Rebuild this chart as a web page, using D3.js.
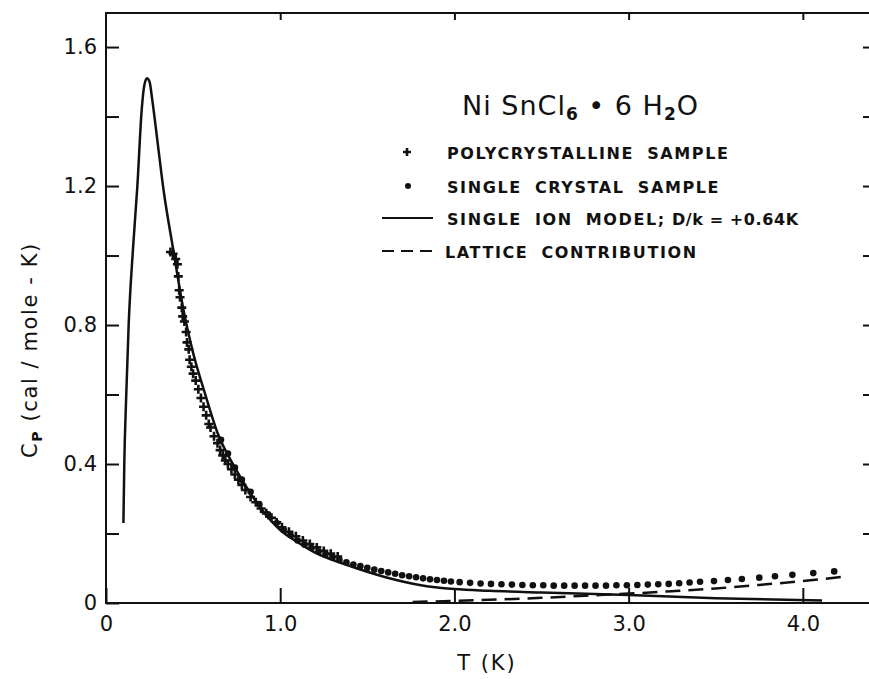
<!DOCTYPE html>
<html lang="en">
<head>
<meta charset="utf-8">
<script src="https://d3js.org/d3.v7.min.js"></script>
<style>
  body { margin: 0; background: #fff; }
  svg text { font-family: "DejaVu Sans", sans-serif; fill: #111; }
  .frame { fill: none; stroke: #111; stroke-width: 2; }
  .model { fill: none; stroke: #111; stroke-width: 2.5; }
  .lattice { fill: none; stroke: #111; stroke-width: 2.5; stroke-dasharray: 15,8; }
  .poly { stroke: #111; stroke-width: 2.6; }
  .tick line { stroke: #111; stroke-width: 2; }
  .legend text { font-weight: bold; font-size: 16px; letter-spacing: 1.6px; word-spacing: 6px; }
</style>
</head>
<body>
<svg id="chart" width="869" height="679"></svg>
<script>
// single ion model curve, D/k = +0.64 K  [T (K), Cp]
const modelT = [0.10, 0.105, 0.115, 0.13, 0.155, 0.18, 0.205, 0.22, 0.235, 0.25, 0.265, 0.30, 0.33, 0.385,
  0.45, 0.50, 0.57, 0.64, 0.74, 0.85, 1.00, 1.10, 1.20, 1.38, 1.60, 1.80, 2.00, 2.20, 2.50, 3.00, 3.50, 4.11];
const modelC = [0.23, 0.40, 0.58, 0.80, 1.02, 1.20, 1.42, 1.49, 1.51, 1.50, 1.45, 1.31, 1.19, 1.02,
  0.83, 0.72, 0.60, 0.49, 0.39, 0.30, 0.21, 0.175, 0.145, 0.11, 0.075, 0.052, 0.040, 0.035, 0.030, 0.023, 0.014, 0.007];

// lattice contribution (dashed)
const latticeT = [1.76, 2.0, 2.25, 2.5, 2.75, 3.0, 3.25, 3.5, 3.75, 4.0, 4.25];
const latticeC = [0.003, 0.006, 0.010, 0.015, 0.021, 0.027, 0.034, 0.042, 0.052, 0.063, 0.077];

// polycrystalline sample (+)
const polyT = [0.37, 0.385, 0.40, 0.41, 0.415, 0.42, 0.425, 0.435, 0.44, 0.45, 0.46, 0.465, 0.475, 0.48, 0.49,
  0.50, 0.515, 0.53, 0.545, 0.56, 0.575, 0.59, 0.60, 0.62, 0.64, 0.655, 0.67, 0.685, 0.70, 0.72, 0.74, 0.76,
  0.78, 0.80, 0.83, 0.86, 0.89, 0.92, 0.95, 0.98, 1.01, 1.05, 1.09, 1.13, 1.17, 1.21, 1.25, 1.29, 1.33];
const polyC = [1.010, 1.005, 0.990, 0.975, 0.940, 0.900, 0.880, 0.850, 0.825, 0.810, 0.780, 0.750, 0.730, 0.700, 0.680,
  0.660, 0.640, 0.615, 0.590, 0.565, 0.540, 0.515, 0.505, 0.480, 0.460, 0.440, 0.425, 0.410, 0.400, 0.385, 0.370, 0.355,
  0.340, 0.325, 0.305, 0.290, 0.272, 0.258, 0.245, 0.232, 0.218, 0.205, 0.192, 0.180, 0.170, 0.160, 0.150, 0.142, 0.134];

// single crystal sample (dots)
const crystalT = [0.66, 0.70, 0.74, 0.78, 0.83, 0.88, 0.93, 0.98, 1.02, 1.06, 1.10, 1.14, 1.18, 1.22, 1.26, 1.30,
  1.34, 1.38, 1.42, 1.46, 1.50, 1.54, 1.58, 1.62, 1.66, 1.70, 1.74, 1.78, 1.82, 1.86, 1.90, 1.94, 1.98, 2.03,
  2.09, 2.15, 2.21, 2.27, 2.33, 2.39, 2.45, 2.51, 2.57, 2.63, 2.69, 2.75, 2.81, 2.87, 2.93, 2.99, 3.05, 3.11,
  3.17, 3.23, 3.29, 3.35, 3.41, 3.49, 3.57, 3.65, 3.75, 3.84, 3.94, 4.06, 4.18];
const crystalC = [0.47, 0.43, 0.39, 0.355, 0.32, 0.285, 0.255, 0.23, 0.21, 0.195, 0.18, 0.168, 0.158, 0.148, 0.139, 0.131,
  0.124, 0.117, 0.111, 0.106, 0.101, 0.096, 0.092, 0.088, 0.084, 0.080, 0.077, 0.074, 0.071, 0.068, 0.066, 0.064, 0.062, 0.060,
  0.058, 0.056, 0.055, 0.054, 0.053, 0.052, 0.051, 0.051, 0.050, 0.050, 0.050, 0.050, 0.050, 0.050, 0.051, 0.051, 0.052, 0.053,
  0.054, 0.055, 0.057, 0.059, 0.061, 0.063, 0.066, 0.069, 0.073, 0.077, 0.081, 0.086, 0.091];

const yTicks = [0, 0.2, 0.4, 0.6, 0.8, 1.0, 1.2, 1.4, 1.6];
const yLabels = { 0: "0", 0.4: "0.4", 0.8: "0.8", 1.2: "1.2", 1.6: "1.6" };
const xTicks = [0, 1, 2, 3, 4];
const xLabels = ["0", "1.0", "2.0", "3.0", "4.0"];

const legendLabels = ["POLYCRYSTALLINE SAMPLE", "SINGLE CRYSTAL SAMPLE",
  "SINGLE ION MODEL;", "LATTICE CONTRIBUTION"];
const modelNote = "D/k = +0.64K";

const svg = d3.select("#chart");
const x = d3.scaleLinear().domain([0, 4.42]).range([106, 876]);
const y = d3.scaleLinear().domain([0, 1.698]).range([603, 13]);

// frame
svg.append("rect").attr("class", "frame")
  .attr("x", x(0)).attr("y", y(1.698))
  .attr("width", x(4.42) - x(0)).attr("height", y(0) - y(1.698));

// axes, ticks pointing inward
svg.append("g").attr("transform", `translate(${x(0)},0)`)
  .call(d3.axisLeft(y).tickValues(yTicks).tickSizeInner(-13).tickSizeOuter(0).tickPadding(9)
    .tickFormat(d => yLabels[d] || ""))
  .call(g => g.select(".domain").remove())
  .call(g => g.selectAll("text").attr("font-size", 21).attr("font-family", null));

svg.append("g").attr("transform", `translate(${x(4.42)},0)`)
  .call(d3.axisRight(y).tickValues(yTicks.slice(1)).tickSizeInner(-13).tickSizeOuter(0).tickFormat(""))
  .call(g => g.select(".domain").remove());

svg.append("g").attr("transform", `translate(0,${y(0)})`)
  .call(d3.axisBottom(x).tickValues(xTicks).tickSizeInner(-15).tickSizeOuter(0).tickPadding(13)
    .tickFormat((d, i) => xLabels[i]))
  .call(g => g.select(".domain").remove())
  .call(g => g.selectAll("text").attr("font-size", 21).attr("font-family", null));

svg.append("g").attr("transform", `translate(0,${y(1.698)})`)
  .call(d3.axisTop(x).tickValues(xTicks.slice(1)).tickSizeInner(-7).tickSizeOuter(0).tickFormat(""))
  .call(g => g.select(".domain").remove());

// axis titles
svg.append("text").attr("x", 487).attr("y", 670).attr("text-anchor", "middle")
  .attr("font-size", 21).style("letter-spacing", "2px").text("T (K)");

const yt = svg.append("text").attr("transform", "translate(37,350) rotate(-90)")
  .attr("text-anchor", "middle").attr("font-size", 21).style("letter-spacing", "1.6px");
yt.append("tspan").text("C");
yt.append("tspan").attr("font-size", 14).attr("font-weight", "bold").attr("dy", 5).text("P");
yt.append("tspan").attr("dy", -5).text(" (cal / mole - K)");

// title
const title = svg.append("text").attr("x", 462).attr("y", 115).attr("font-size", 27)
  .style("letter-spacing", "1px");
title.append("tspan").text("Ni SnCl");
title.append("tspan").attr("font-size", 17).attr("font-weight", "bold").attr("dy", 5).text("6");
title.append("tspan").attr("dy", -5).text(" \u2022 6 H");
title.append("tspan").attr("font-size", 17).attr("font-weight", "bold").attr("dy", 5).text("2");
title.append("tspan").attr("dy", -5).text("O");

// data
const model = modelT.map((t, i) => [t, modelC[i]]);
const lattice = latticeT.map((t, i) => [t, latticeC[i]]);
const poly = polyT.map((t, i) => [t, polyC[i]]);
const crystal = crystalT.map((t, i) => [t, crystalC[i]]);

const line = d3.line().x(d => x(d[0])).y(d => y(d[1])).curve(d3.curveMonotoneX);

svg.append("path").datum(model).attr("class", "model").attr("d", line);
svg.append("path").datum(lattice).attr("class", "lattice").attr("d", line);

svg.append("g").selectAll("circle").data(crystal).join("circle")
  .attr("cx", d => x(d[0])).attr("cy", d => y(d[1])).attr("r", 3.3).attr("fill", "#111");

svg.append("g").selectAll("path").data(poly).join("path")
  .attr("transform", d => `translate(${x(d[0])},${y(d[1])})`)
  .attr("d", "M-4.5,0H4.5M0,-4.5V4.5").attr("class", "poly");

// legend
const legend = svg.append("g").attr("class", "legend");
const rowY = [152, 186, 218, 251];
legend.append("path").attr("class", "poly").attr("d", `M403,${rowY[0]}H411M407,${rowY[0] - 4}V${rowY[0] + 4}`);
legend.append("circle").attr("cx", 408).attr("cy", rowY[1]).attr("r", 3).attr("fill", "#111");
legend.append("line").attr("x1", 382).attr("x2", 433).attr("y1", rowY[2]).attr("y2", rowY[2])
  .attr("stroke", "#111").attr("stroke-width", 1.8);
legend.append("line").attr("x1", 382).attr("x2", 433).attr("y1", rowY[3]).attr("y2", rowY[3])
  .attr("stroke", "#111").attr("stroke-width", 2).attr("stroke-dasharray", "12,7");
const lbl = legend.selectAll("text.lbl").data(legendLabels).join("text").attr("class", "lbl")
  .attr("x", (d, i) => i === 3 ? 445 : 447).attr("y", (d, i) => rowY[i] + 7).text(d => d);
lbl.filter((d, i) => i === 2).append("tspan")
  .style("letter-spacing", "0.6px").style("word-spacing", "0px").text(" " + modelNote);
</script>
</body>
</html>
